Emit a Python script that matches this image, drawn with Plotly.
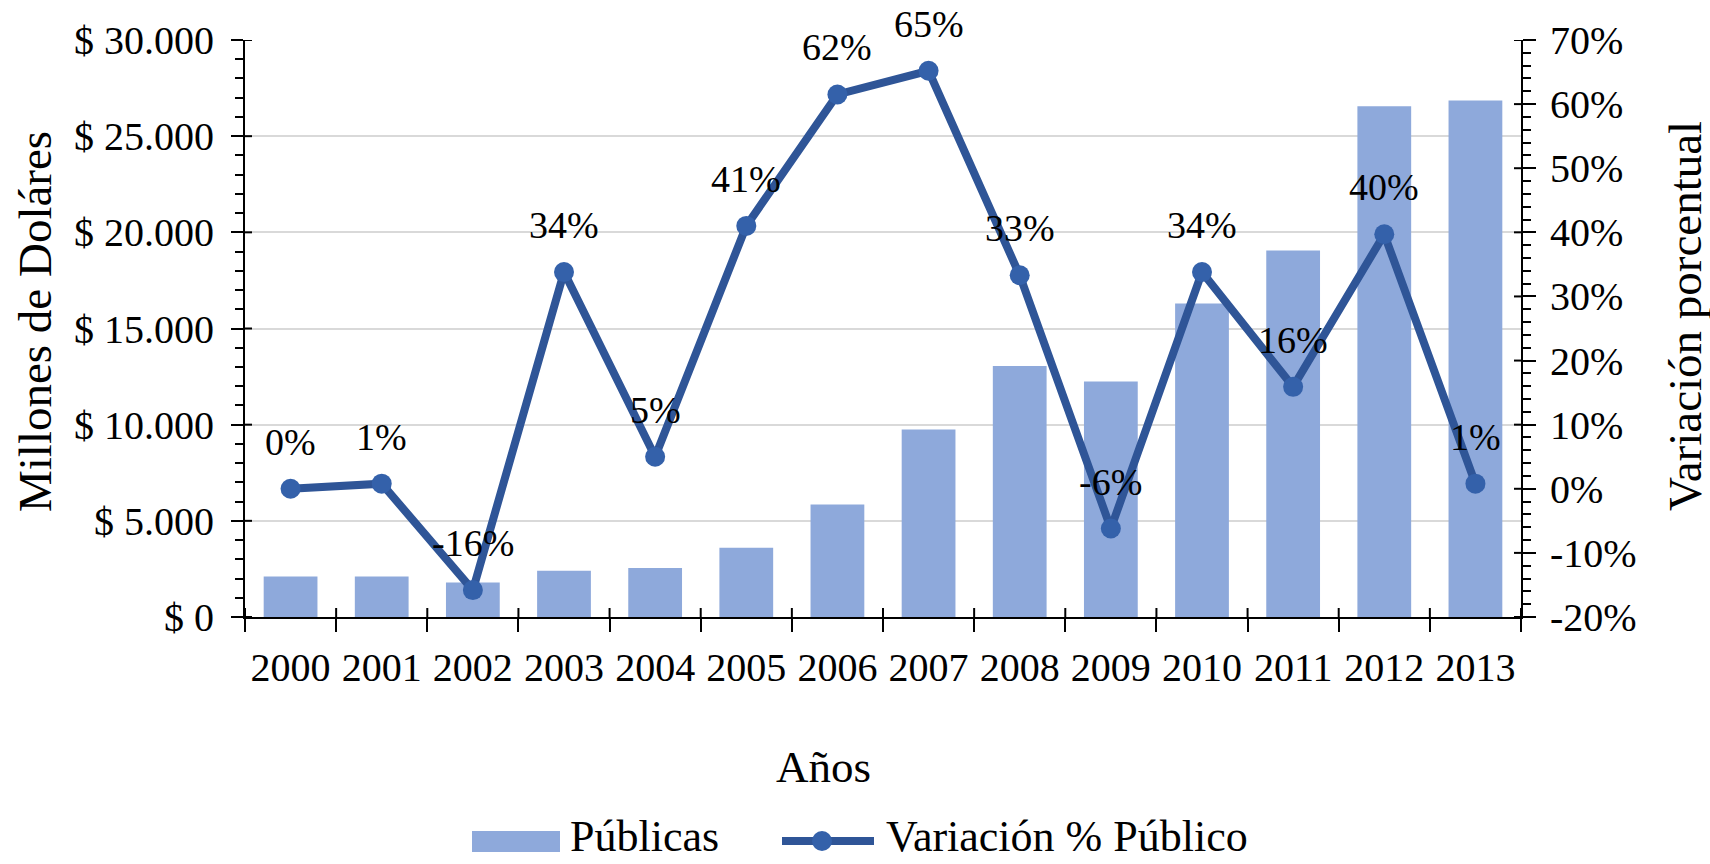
import plotly.graph_objects as go

# ---------------- data ----------------
years = ["2000", "2001", "2002", "2003", "2004", "2005", "2006",
         "2007", "2008", "2009", "2010", "2011", "2012", "2013"]
publicas = [2100, 2100, 1800, 2400, 2550, 3600, 5850,
            9750, 13050, 12250, 16300, 19050, 26550, 26850]
variacion = [0.0, 0.008, -0.158, 0.338, 0.05, 0.41, 0.615,
             0.652, 0.333, -0.062, 0.338, 0.159, 0.397, 0.008]
left_ticks = [0, 5000, 10000, 15000, 20000, 25000, 30000]
left_tick_labels = ["$ " + f"{v:,}".replace(",", ".") for v in left_ticks]
right_ticks = [-0.2, -0.1, 0.0, 0.1, 0.2, 0.3, 0.4, 0.5, 0.6, 0.7]
right_tick_labels = [f"{round(v * 100)}%" for v in right_ticks]
point_labels = [f"{round(v * 100)}%" for v in variacion]

bar_name = "Públicas"
line_name = "Variación % Público"

# ---------------- style ----------------
FONT = "Liberation Serif"
BAR_COLOR = "#8EA9DB"
LINE_COLOR = "#2F5597"
MARKER_COLOR = "#3461AA"
TICK_SIZE = 40
TITLE_SIZE = 47
LEGEND_SIZE = 44

W, H = 1710, 864
ML, MR, MT, MB = 245, 189, 40, 247
PW, PH = W - ML - MR, H - MT - MB


def px_x(px):
    return (px - ML) / PW


def px_y(py):
    return (H - MB - py) / PH


fig = go.Figure()
fig.add_trace(go.Bar(
    x=years, y=publicas, name=bar_name, marker_color=BAR_COLOR,
    marker_line_width=0, yaxis="y", showlegend=False,
))
fig.add_trace(go.Scatter(
    x=years, y=variacion, name=line_name, mode="lines+markers",
    line=dict(color=LINE_COLOR, width=8),
    marker=dict(color=MARKER_COLOR, size=20, line=dict(width=0)),
    yaxis="y2", showlegend=False,
))

annotations = []
# data labels: category axes place annotations by category index
for idx, (v, lab) in enumerate(zip(variacion, point_labels)):
    annotations.append(dict(
        x=idx, y=v, xref="x", yref="y2", text=lab, showarrow=False,
        yshift=47, font=dict(family=FONT, size=38, color="black"),
    ))

# axis titles
annotations.append(dict(
    x=px_x(823), y=px_y(767), xref="paper", yref="paper", text="Años",
    showarrow=False, xanchor="center", yanchor="middle",
    font=dict(family=FONT, size=45, color="black")))
annotations.append(dict(
    x=px_x(35), y=px_y(322), xref="paper", yref="paper",
    text="Millones de Doláres", textangle=-90, showarrow=False,
    xanchor="center", yanchor="middle",
    font=dict(family=FONT, size=TITLE_SIZE, color="black")))
annotations.append(dict(
    x=px_x(1685), y=px_y(316), xref="paper", yref="paper",
    text="Variación porcentual", textangle=-90, showarrow=False,
    xanchor="center", yanchor="middle",
    font=dict(family=FONT, size=TITLE_SIZE, color="black")))

# legend (drawn manually)
leg_y = px_y(836)
annotations.append(dict(
    x=px_x(568), y=leg_y, xref="paper", yref="paper", text=bar_name,
    showarrow=False, xanchor="left", yanchor="middle",
    font=dict(family=FONT, size=LEGEND_SIZE, color="black")))
annotations.append(dict(
    x=px_x(884), y=leg_y, xref="paper", yref="paper", text=line_name,
    showarrow=False, xanchor="left", yanchor="middle",
    font=dict(family=FONT, size=LEGEND_SIZE, color="black")))

shapes = [
    dict(type="rect", xref="paper", yref="paper",
         x0=px_x(472), x1=px_x(560), y0=px_y(852), y1=px_y(831),
         fillcolor=BAR_COLOR, line=dict(width=0)),
    dict(type="line", xref="paper", yref="paper",
         x0=px_x(782), x1=px_x(874), y0=px_y(841), y1=px_y(841),
         line=dict(color=LINE_COLOR, width=8)),
    dict(type="circle", xref="paper", yref="paper",
         xsizemode="pixel", ysizemode="pixel",
         xanchor=px_x(822), yanchor=px_y(841), x0=-10, x1=10, y0=-10, y1=10,
         fillcolor=MARKER_COLOR, line=dict(width=0)),
]

# inner halves of the "cross" major ticks
tick_line = dict(color="black", width=2)
for v in left_ticks:
    shapes.append(dict(type="line", xref="paper", yref="y",
                       xsizemode="pixel", xanchor=0, x0=0, x1=7,
                       y0=v, y1=v, line=tick_line))
for v in right_ticks:
    shapes.append(dict(type="line", xref="paper", yref="y2",
                       xsizemode="pixel", xanchor=1, x0=-7, x1=0,
                       y0=v, y1=v, line=tick_line))
n = len(years)
for i in range(n + 1):
    shapes.append(dict(type="line", xref="x", yref="paper",
                       ysizemode="pixel", yanchor=0, y0=0, y1=9,
                       x0=i - 0.5, x1=i - 0.5, line=tick_line))

tickfont = dict(family=FONT, size=TICK_SIZE, color="black")

fig.update_layout(
    width=W, height=H,
    margin=dict(l=ML, r=MR, t=MT, b=MB, pad=0),
    paper_bgcolor="white", plot_bgcolor="white",
    bargap=0.41,
    showlegend=False,
    font=dict(family=FONT, color="black"),
    xaxis=dict(
        type="category", tickson="boundaries", ticks="outside",
        ticklen=13, tickwidth=2, tickcolor="black",
        showline=True, linecolor="black", linewidth=2,
        showgrid=False, tickfont=tickfont, ticklabelstandoff=14,
        range=[-0.5, n - 0.5],
    ),
    yaxis=dict(
        range=[0, 30000], tickmode="array", tickvals=left_ticks,
        ticktext=left_tick_labels,
        ticks="outside", ticklen=12, tickwidth=2, tickcolor="black",
        minor=dict(ticks="outside", ticklen=8, tickwidth=2,
                   tickcolor="black", dtick=1000, showgrid=False),
        showgrid=True, gridcolor="#D9D9D9", gridwidth=2,
        showline=True, linecolor="black", linewidth=2, zeroline=False,
        tickfont=tickfont, ticklabelstandoff=9,
    ),
    yaxis2=dict(
        overlaying="y", side="right", anchor="x",
        range=[-0.2, 0.7], tickmode="array", tickvals=right_ticks,
        ticktext=right_tick_labels,
        ticks="outside", ticklen=13, tickwidth=2, tickcolor="black",
        minor=dict(ticks="outside", ticklen=8, tickwidth=2,
                   tickcolor="black", dtick=0.02, showgrid=False),
        showgrid=False, showline=True, linecolor="black", linewidth=2,
        zeroline=False, tickfont=tickfont, ticklabelstandoff=6,
    ),
    annotations=annotations,
    shapes=shapes,
)

fig.write_html("out.html", config={"displayModeBar": False},
               post_script="document.body.style.margin='0';")
